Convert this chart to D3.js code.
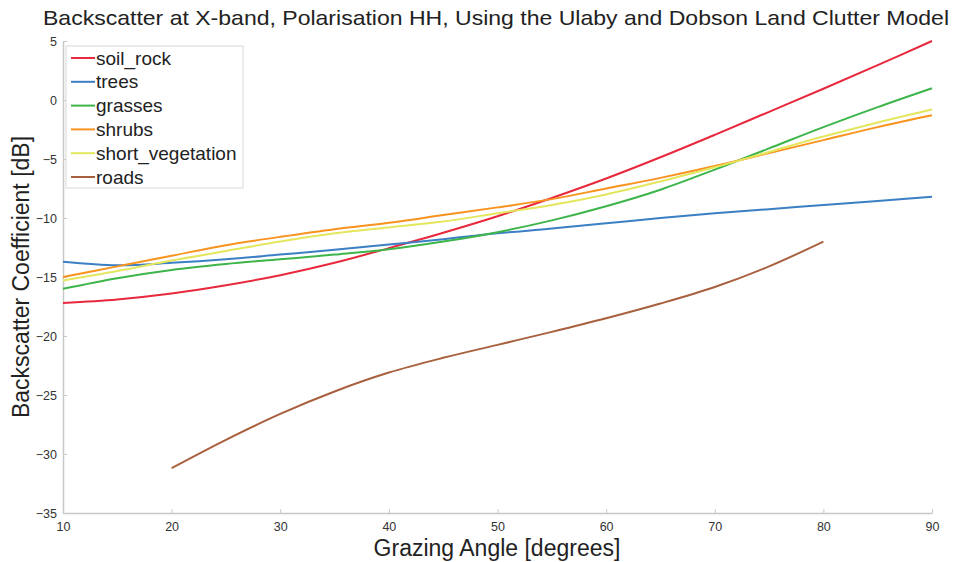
<!DOCTYPE html>
<html>
<head>
<meta charset="utf-8">
<script src="https://cdn.jsdelivr.net/npm/d3@7"></script>
<style>
  body { margin: 0; background: #fff; }
  text { font-family: "Liberation Sans", Arial, sans-serif; }
</style>
</head>
<body>
<div id="chart"></div>
<script>
// Grazing angles (degrees) used for every series except roads
const angles = [10, 15, 20, 25, 30, 35, 40, 45, 50, 55, 60, 65, 70, 75, 80, 85, 90];
const roadAngles = [20, 25, 30, 35, 40, 45, 50, 55, 60, 65, 70, 75, 80];

// Backscatter values in dB
const soilRock = [-17.2, -16.9, -16.4, -15.7, -14.85, -13.8, -12.55, -11.25, -9.85, -8.3, -6.65, -4.85, -2.95, -1.0, 0.95, 2.95, 5.0];
const trees = [-13.7, -14.0, -13.8, -13.5, -13.1, -12.7, -12.25, -11.8, -11.3, -10.9, -10.45, -10.0, -9.6, -9.25, -8.9, -8.55, -8.2];
const grasses = [-16.0, -15.1, -14.4, -13.9, -13.5, -13.1, -12.65, -12.0, -11.2, -10.2, -9.0, -7.6, -5.9, -4.1, -2.3, -0.6, 1.0];
const shrubs = [-15.0, -14.1, -13.2, -12.3, -11.6, -10.95, -10.4, -9.75, -9.1, -8.4, -7.5, -6.6, -5.6, -4.5, -3.4, -2.3, -1.3];
const shortVegetation = [-15.3, -14.5, -13.6, -12.8, -12.0, -11.3, -10.8, -10.3, -9.6, -8.9, -8.0, -6.9, -5.7, -4.4, -3.1, -1.9, -0.8];
const roads = [-31.2, -28.8, -26.6, -24.7, -23.1, -21.85, -20.75, -19.65, -18.5, -17.25, -15.85, -14.1, -12.0];

const seriesNames = ["soil_rock", "trees", "grasses", "shrubs", "short_vegetation", "roads"];
const seriesColors = ["#e8283c", "#3b7fc4", "#3db54a", "#f8931f", "#e4e65e", "#a8603e"];

const xTicks = [10, 20, 30, 40, 50, 60, 70, 80, 90];
const yTicks = [5, 0, -5, -10, -15, -20, -25, -30, -35];

const series = [
    { name: seriesNames[0], x: angles, y: soilRock },
    { name: seriesNames[1], x: angles, y: trees },
    { name: seriesNames[2], x: angles, y: grasses },
    { name: seriesNames[3], x: angles, y: shrubs },
    { name: seriesNames[4], x: angles, y: shortVegetation },
    { name: seriesNames[5], x: roadAngles, y: roads }
];

function drawLineChart() {
    // Canvas and plot area
    const W = 959, H = 562;
    const margin = { top: 41, right: 27, bottom: 49, left: 63 };
    const width = W - margin.left - margin.right;
    const height = H - margin.top - margin.bottom;

    const svg = d3.select("#chart")
        .append("svg")
        .attr("width", W)
        .attr("height", H);

    const g = svg.append("g")
        .attr("transform", `translate(${margin.left},${margin.top})`);

    const xScale = d3.scaleLinear().domain([10, 90]).range([0, width]);
    const yScale = d3.scaleLinear().domain([-35, 5]).range([height, 0]);

    // x axis
    const xAxis = g.append("g")
        .attr("transform", `translate(0,${height})`)
        .call(d3.axisBottom(xScale).tickValues(xTicks).tickSizeInner(-4).tickSizeOuter(0).tickPadding(9));
    xAxis.select(".domain").attr("stroke", "#c8c8c8").attr("stroke-width", 1.5);
    xAxis.selectAll(".tick line").attr("stroke", "#c8c8c8");
    xAxis.selectAll("text").attr("font-size", 12.5).attr("fill", "#333");

    // y axis
    const yAxis = g.append("g")
        .call(d3.axisLeft(yScale).tickValues(yTicks).tickSizeInner(-4).tickSizeOuter(0).tickPadding(6));
    yAxis.select(".domain").attr("stroke", "#c8c8c8").attr("stroke-width", 1.5);
    yAxis.selectAll(".tick line").attr("stroke", "#c8c8c8");
    yAxis.selectAll("text").attr("font-size", 12.5).attr("fill", "#333");

    // Lines
    const line = d3.line()
        .x(d => xScale(d[0]))
        .y(d => yScale(d[1]))
        .curve(d3.curveCatmullRom.alpha(0.5));

    g.selectAll(".series")
        .data(series)
        .enter()
        .append("path")
        .attr("class", "series")
        .attr("fill", "none")
        .attr("stroke", (d, i) => seriesColors[i])
        .attr("stroke-width", 2)
        .attr("d", d => line(d.x.map((a, i) => [a, d.y[i]])));

    // Title
    svg.append("text")
        .attr("x", 496)
        .attr("y", 25)
        .attr("text-anchor", "middle")
        .attr("font-size", 21)
        .attr("textLength", 906)
        .attr("lengthAdjust", "spacingAndGlyphs")
        .attr("fill", "#222")
        .text("Backscatter at X-band, Polarisation HH, Using the Ulaby and Dobson Land Clutter Model");

    // Axis labels
    svg.append("text")
        .attr("x", 497)
        .attr("y", 556)
        .attr("text-anchor", "middle")
        .attr("font-size", 23)
        .attr("fill", "#222")
        .text("Grazing Angle [degrees]");

    svg.append("text")
        .attr("transform", `translate(29,${margin.top + height / 2}) rotate(-90)`)
        .attr("text-anchor", "middle")
        .attr("font-size", 23)
        .attr("fill", "#222")
        .text("Backscatter Coefficient [dB]");

    // Legend
    const legend = svg.append("g").attr("transform", "translate(66,46)");
    legend.append("rect")
        .attr("width", 177)
        .attr("height", 142)
        .attr("fill", "#fff")
        .attr("stroke", "#d8d8d8");

    const items = legend.selectAll(".item")
        .data(seriesNames)
        .enter()
        .append("g")
        .attr("transform", (d, i) => `translate(0,${12 + i * 23.8})`);

    items.append("line")
        .attr("x1", 5).attr("x2", 29)
        .attr("stroke", (d, i) => seriesColors[i])
        .attr("stroke-width", 2);

    items.append("text")
        .attr("x", 30)
        .attr("dy", "0.35em")
        .attr("font-size", 19)
        .attr("fill", "#222")
        .text(d => d);
}

drawLineChart();
</script>
</body>
</html>
